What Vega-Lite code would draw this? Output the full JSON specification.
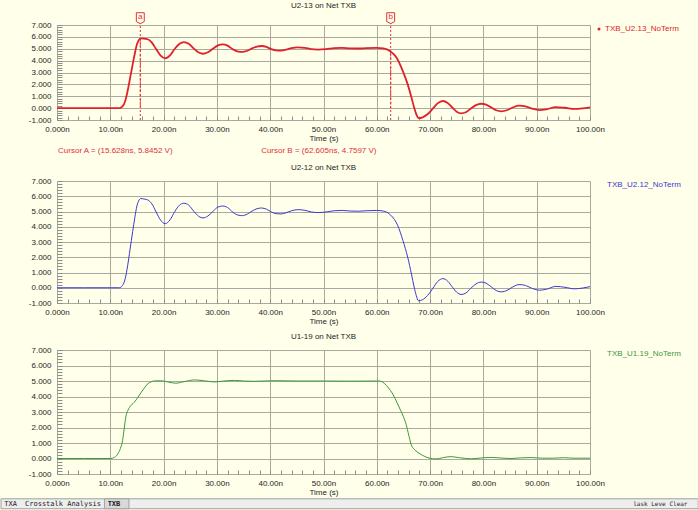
{
  "$schema": "https://vega.github.io/schema/vega-lite/v6.json",
  "padding": {"left": 0, "top": 1, "right": 0, "bottom": 0},
  "background": "#ffffea",
  "datasets": {
    "u213": [
      {"t": 0, "v": 0}, {"t": 5, "v": 0}, {"t": 10, "v": 0}, {"t": 11.7, "v": 0},
      {"t": 12.3, "v": 0.15}, {"t": 12.8, "v": 0.6}, {"t": 13.25, "v": 1.44}, {"t": 13.7, "v": 2.5},
      {"t": 14.2, "v": 3.69}, {"t": 14.6, "v": 4.6}, {"t": 15.0, "v": 5.37}, {"t": 15.4, "v": 5.75},
      {"t": 15.7, "v": 5.87}, {"t": 16.3, "v": 5.86}, {"t": 17.0, "v": 5.8}, {"t": 17.8, "v": 5.52},
      {"t": 18.6, "v": 4.97}, {"t": 19.4, "v": 4.45}, {"t": 20.3, "v": 4.2}, {"t": 21.2, "v": 4.45},
      {"t": 22.1, "v": 5.0}, {"t": 23.0, "v": 5.42}, {"t": 23.8, "v": 5.56}, {"t": 24.7, "v": 5.42},
      {"t": 25.7, "v": 5.0}, {"t": 26.6, "v": 4.68}, {"t": 27.4, "v": 4.58}, {"t": 28.3, "v": 4.7},
      {"t": 29.3, "v": 5.02}, {"t": 30.2, "v": 5.29}, {"t": 31.1, "v": 5.37}, {"t": 32.0, "v": 5.26},
      {"t": 33.0, "v": 4.95}, {"t": 34.0, "v": 4.76}, {"t": 34.8, "v": 4.73}, {"t": 35.7, "v": 4.83},
      {"t": 36.6, "v": 5.03}, {"t": 37.5, "v": 5.18}, {"t": 38.4, "v": 5.23}, {"t": 39.3, "v": 5.15},
      {"t": 40.2, "v": 4.97}, {"t": 41.1, "v": 4.86}, {"t": 42.0, "v": 4.84}, {"t": 43.0, "v": 4.92},
      {"t": 44.0, "v": 5.05}, {"t": 45.2, "v": 5.12}, {"t": 46.5, "v": 5.08}, {"t": 47.7, "v": 4.97},
      {"t": 49.0, "v": 4.93}, {"t": 50.5, "v": 4.97}, {"t": 52.0, "v": 5.05}, {"t": 53.5, "v": 5.07},
      {"t": 55.0, "v": 5.03}, {"t": 56.5, "v": 5.02}, {"t": 58.0, "v": 5.05}, {"t": 60.0, "v": 5.07},
      {"t": 61.2, "v": 5.03}, {"t": 62.0, "v": 4.93}, {"t": 62.6, "v": 4.76}, {"t": 63.3, "v": 4.48},
      {"t": 63.9, "v": 4.1}, {"t": 64.9, "v": 3.1}, {"t": 65.8, "v": 2.0}, {"t": 66.5, "v": 0.9},
      {"t": 67.0, "v": 0.05}, {"t": 67.4, "v": -0.5}, {"t": 67.8, "v": -0.85}, {"t": 68.6, "v": -0.78},
      {"t": 69.5, "v": -0.52}, {"t": 70.5, "v": -0.05}, {"t": 71.4, "v": 0.4}, {"t": 72.4, "v": 0.6},
      {"t": 73.3, "v": 0.43}, {"t": 74.2, "v": 0.03}, {"t": 75.0, "v": -0.3}, {"t": 75.8, "v": -0.44},
      {"t": 76.7, "v": -0.35}, {"t": 77.6, "v": -0.05}, {"t": 78.6, "v": 0.25}, {"t": 79.6, "v": 0.37},
      {"t": 80.5, "v": 0.3}, {"t": 81.5, "v": 0.05}, {"t": 82.4, "v": -0.18}, {"t": 83.4, "v": -0.27},
      {"t": 84.4, "v": -0.18}, {"t": 85.5, "v": 0.05}, {"t": 86.7, "v": 0.21}, {"t": 87.9, "v": 0.15},
      {"t": 89.2, "v": -0.05}, {"t": 90.5, "v": -0.16}, {"t": 91.8, "v": -0.1}, {"t": 93.6, "v": 0.09},
      {"t": 95.3, "v": 0.03}, {"t": 97.1, "v": -0.07}, {"t": 98.6, "v": -0.02}, {"t": 100, "v": 0.07}
    ],
    "u212": [
      {"t": 0, "v": 0}, {"t": 5, "v": 0}, {"t": 10, "v": 0}, {"t": 11.7, "v": 0},
      {"t": 12.3, "v": 0.15}, {"t": 12.8, "v": 0.6}, {"t": 13.25, "v": 1.44}, {"t": 13.7, "v": 2.5},
      {"t": 14.2, "v": 3.69}, {"t": 14.6, "v": 4.6}, {"t": 15.0, "v": 5.37}, {"t": 15.4, "v": 5.75},
      {"t": 15.7, "v": 5.85}, {"t": 16.3, "v": 5.82}, {"t": 17.0, "v": 5.76}, {"t": 17.8, "v": 5.5},
      {"t": 18.6, "v": 4.97}, {"t": 19.4, "v": 4.45}, {"t": 20.3, "v": 4.2}, {"t": 21.2, "v": 4.45},
      {"t": 22.1, "v": 5.0}, {"t": 23.0, "v": 5.42}, {"t": 23.8, "v": 5.54}, {"t": 24.7, "v": 5.42},
      {"t": 25.7, "v": 5.0}, {"t": 26.6, "v": 4.68}, {"t": 27.4, "v": 4.58}, {"t": 28.3, "v": 4.7},
      {"t": 29.3, "v": 5.02}, {"t": 30.2, "v": 5.29}, {"t": 31.1, "v": 5.36}, {"t": 32.0, "v": 5.26},
      {"t": 33.0, "v": 4.95}, {"t": 34.0, "v": 4.76}, {"t": 34.8, "v": 4.73}, {"t": 35.7, "v": 4.83},
      {"t": 36.6, "v": 5.03}, {"t": 37.5, "v": 5.18}, {"t": 38.4, "v": 5.23}, {"t": 39.3, "v": 5.15},
      {"t": 40.2, "v": 4.97}, {"t": 41.1, "v": 4.86}, {"t": 42.0, "v": 4.84}, {"t": 43.0, "v": 4.92},
      {"t": 44.0, "v": 5.05}, {"t": 45.2, "v": 5.12}, {"t": 46.5, "v": 5.08}, {"t": 47.7, "v": 4.97},
      {"t": 49.0, "v": 4.93}, {"t": 50.5, "v": 4.97}, {"t": 52.0, "v": 5.05}, {"t": 53.5, "v": 5.07},
      {"t": 55.0, "v": 5.03}, {"t": 56.5, "v": 5.02}, {"t": 58.0, "v": 5.05}, {"t": 60.0, "v": 5.07},
      {"t": 61.2, "v": 5.03}, {"t": 62.0, "v": 4.93}, {"t": 62.6, "v": 4.76}, {"t": 63.3, "v": 4.48},
      {"t": 63.9, "v": 4.1}, {"t": 64.9, "v": 3.1}, {"t": 65.8, "v": 2.0}, {"t": 66.5, "v": 0.9},
      {"t": 67.0, "v": 0.05}, {"t": 67.4, "v": -0.5}, {"t": 67.8, "v": -0.85}, {"t": 68.6, "v": -0.78},
      {"t": 69.5, "v": -0.52}, {"t": 70.5, "v": -0.05}, {"t": 71.4, "v": 0.4}, {"t": 72.4, "v": 0.6},
      {"t": 73.3, "v": 0.43}, {"t": 74.2, "v": 0.03}, {"t": 75.0, "v": -0.3}, {"t": 75.8, "v": -0.44},
      {"t": 76.7, "v": -0.35}, {"t": 77.6, "v": -0.05}, {"t": 78.6, "v": 0.25}, {"t": 79.6, "v": 0.37},
      {"t": 80.5, "v": 0.3}, {"t": 81.5, "v": 0.05}, {"t": 82.4, "v": -0.18}, {"t": 83.4, "v": -0.27},
      {"t": 84.4, "v": -0.18}, {"t": 85.5, "v": 0.05}, {"t": 86.7, "v": 0.21}, {"t": 87.9, "v": 0.15},
      {"t": 89.2, "v": -0.05}, {"t": 90.5, "v": -0.16}, {"t": 91.8, "v": -0.1}, {"t": 93.6, "v": 0.09},
      {"t": 95.3, "v": 0.03}, {"t": 97.1, "v": -0.07}, {"t": 98.6, "v": -0.02}, {"t": 100, "v": 0.07}
    ],
    "u119": [
      {"t": 0, "v": 0}, {"t": 5, "v": 0}, {"t": 10.1, "v": 0}, {"t": 10.8, "v": 0.08},
      {"t": 11.4, "v": 0.29}, {"t": 11.9, "v": 0.65}, {"t": 12.3, "v": 1.15}, {"t": 12.6, "v": 1.9},
      {"t": 12.9, "v": 2.66}, {"t": 13.3, "v": 3.1}, {"t": 13.6, "v": 3.3}, {"t": 14.5, "v": 3.63},
      {"t": 15.2, "v": 3.95}, {"t": 15.8, "v": 4.27}, {"t": 16.4, "v": 4.55}, {"t": 17.0, "v": 4.81},
      {"t": 17.7, "v": 4.95}, {"t": 18.3, "v": 5.01}, {"t": 19.8, "v": 5.01}, {"t": 21.0, "v": 4.92},
      {"t": 22.3, "v": 4.86}, {"t": 24.0, "v": 4.97}, {"t": 25.8, "v": 5.07}, {"t": 27.5, "v": 5.02},
      {"t": 29.5, "v": 4.94}, {"t": 31.3, "v": 5.0}, {"t": 33.3, "v": 5.04}, {"t": 35.0, "v": 5.0},
      {"t": 37.0, "v": 4.98}, {"t": 40.8, "v": 5.02}, {"t": 45.0, "v": 5.0}, {"t": 50.0, "v": 5.0},
      {"t": 55.0, "v": 4.99}, {"t": 60.5, "v": 5.0}, {"t": 61.4, "v": 4.85}, {"t": 62.2, "v": 4.55},
      {"t": 63.0, "v": 4.16}, {"t": 63.8, "v": 3.6}, {"t": 64.5, "v": 3.08}, {"t": 65.0, "v": 2.7},
      {"t": 65.5, "v": 2.2}, {"t": 66.0, "v": 1.5}, {"t": 66.4, "v": 0.94}, {"t": 67.0, "v": 0.6},
      {"t": 67.7, "v": 0.4}, {"t": 68.6, "v": 0.2}, {"t": 69.8, "v": 0.03}, {"t": 71.1, "v": -0.03},
      {"t": 72.5, "v": 0.06}, {"t": 73.9, "v": 0.12}, {"t": 75.5, "v": 0.05}, {"t": 77.7, "v": -0.02},
      {"t": 79.5, "v": 0.03}, {"t": 81.4, "v": 0.07}, {"t": 83.3, "v": 0.03}, {"t": 85.2, "v": 0.0},
      {"t": 87.0, "v": 0.04}, {"t": 88.9, "v": 0.06}, {"t": 91.0, "v": 0.02}, {"t": 93.0, "v": 0.02},
      {"t": 95.0, "v": 0.05}, {"t": 97.0, "v": 0.02}, {"t": 100, "v": 0.02}
    ],
    "cursors": [
      {"cursor": "a", "label": "Cursor A = (15.628ns, 5.8452 V)", "t": 15.628, "v": 5.8452},
      {"cursor": "b", "label": "Cursor B = (62.605ns, 4.7597 V)", "t": 62.605, "v": 4.7597}
    ],
    "tabs": [
      {"tab": "TXA"},
      {"tab": "Crosstalk Analysis"},
      {"tab": "TXB"},
      {"tab": "lask Leve"},
      {"tab": "Clear"}
    ]
  },
  "config": {
    "font": "Liberation Sans",
    "view": {"stroke": null},
    "axis": {
      "labelFontSize": 8, "labelColor": "#1e1e1e", "titleFontSize": 8, "titleFontWeight": "normal",
      "titleColor": "#1e1e1e", "gridColor": "#a9a9a0", "gridWidth": 1, "tickColor": "#8c8c8c", "domain": false
    },
    "title": {"fontSize": 8, "fontWeight": "normal", "color": "#1e1e1e", "frame": "group", "anchor": "middle", "offset": 5},
    "legend": {"labelFontSize": 8, "title": null, "padding": 0, "orient": "right"}
  },
  "resolve": {"scale": {"x": "independent", "y": "independent", "color": "independent"}, "legend": {"color": "independent"}},
  "spacing": 8,
  "vconcat": [
    {
      "title": {"text": "U2-13 on Net TXB", "offset": 1},
      "width": 533, "height": 95,
      "encoding": {
        "x": {"field": "t", "type": "quantitative", "scale": {"domain": [0, 100], "nice": false, "zero": false},
          "axis": {"values": [0,2,4,6,8,10,12,14,16,18,20,22,24,26,28,30,32,34,36,38,40,42,44,46,48,50,52,54,56,58,60,62,64,66,68,70,72,74,76,78,80,82,84,86,88,90,92,94,96,98,100],
            "labelExpr": "datum.value % 10 === 0 ? (datum.value === 0 ? '0.000n' : format(datum.value, '.2f') + 'n') : ''",
            "gridOpacity": {"condition": {"test": "datum.value % 10 === 0", "value": 1}, "value": 0},
            "tickSize": -4, "labelPadding": 9, "labelOverlap": false, "labelFlush": false, "title": "Time (s)", "titlePadding": 1}},
        "y": {"field": "v", "type": "quantitative", "scale": {"domain": [-1, 7], "nice": false, "zero": false},
          "axis": {"values": [-1,-0.8,-0.6,-0.4,-0.2,0,0.2,0.4,0.6,0.8,1,1.2,1.4,1.6,1.8,2,2.2,2.4,2.6,2.8,3,3.2,3.4,3.6,3.8,4,4.2,4.4,4.6,4.8,5,5.2,5.4,5.6,5.8,6,6.2,6.4,6.6,6.8,7],
            "labelExpr": "abs(datum.value - round(datum.value)) < 0.01 ? (datum.value < 0 ? '-' + format(abs(datum.value), '.3f') : format(datum.value, '.3f')) : ''",
            "gridOpacity": {"condition": {"test": "abs(datum.value - round(datum.value)) < 0.01", "value": 1}, "value": 0},
            "tickSize": -5, "labelPadding": 11, "labelOverlap": false, "labelFlush": false, "title": null}}
      },
      "layer": [
        {"data": {"name": "cursors"}, "mark": {"type": "rule", "color": "#e0303a", "strokeDash": [3, 2], "strokeWidth": 1},
          "encoding": {"y": {"field": "v", "type": "quantitative"}}},
        {"data": {"name": "cursors"}, "mark": {"type": "rule", "color": "#e0303a", "strokeDash": [2, 2], "strokeWidth": 1, "clip": false},
          "encoding": {"x": {"field": "t", "type": "quantitative"}, "y": {"datum": -1}, "y2": {"datum": 7.45}}},
        {"data": {"name": "u213"}, "mark": {"type": "line", "interpolate": "monotone", "strokeWidth": 1.8},
          "encoding": {"color": {"datum": "TXB_U2.13_NoTerm", "type": "nominal", "scale": {"range": ["#e0202a"]},
            "legend": {"offset": 5, "symbolType": "circle", "symbolSize": 9, "symbolFillColor": "#e0202a", "symbolStrokeWidth": 0, "labelColor": "#e0202a", "labelOffset": 2}}}},
        {"data": {"name": "cursors"}, "mark": {"type": "point", "shape": "M-0.72,-1 L0.72,-1 L0.72,0.6 L0,1 L-0.72,0.6 Z", "size": 121, "filled": true, "fill": "#ffffea", "stroke": "#e0303a", "strokeWidth": 1, "opacity": 1, "clip": false},
          "encoding": {"x": {"field": "t", "type": "quantitative"}, "y": {"datum": 7.57}}},
        {"data": {"name": "cursors"}, "mark": {"type": "text", "color": "#e0303a", "fontSize": 8, "baseline": "middle", "clip": false},
          "encoding": {"x": {"field": "t", "type": "quantitative"}, "y": {"datum": 7.67}, "text": {"field": "cursor"}}},
        {"data": {"name": "cursors"}, "transform": [{"filter": "datum.cursor === 'a'"}], "mark": {"type": "text", "color": "#e0303a", "fontSize": 8, "align": "left", "baseline": "middle", "clip": false},
          "encoding": {"x": {"datum": 0.2}, "y": {"datum": -3.62}, "text": {"field": "label"}}},
        {"data": {"name": "cursors"}, "transform": [{"filter": "datum.cursor === 'b'"}], "mark": {"type": "text", "color": "#e0303a", "fontSize": 8, "align": "left", "baseline": "middle", "clip": false},
          "encoding": {"x": {"datum": 38.3}, "y": {"datum": -3.62}, "text": {"field": "label"}}}
      ]
    },
    {
      "title": "U2-12 on Net TXB",
      "width": 533, "height": 122,
      "data": {"name": "u212"},
      "mark": {"type": "line", "interpolate": "monotone", "strokeWidth": 1},
      "encoding": {
        "x": {"field": "t", "type": "quantitative", "scale": {"domain": [0, 100], "nice": false, "zero": false},
          "axis": {"values": [0,2,4,6,8,10,12,14,16,18,20,22,24,26,28,30,32,34,36,38,40,42,44,46,48,50,52,54,56,58,60,62,64,66,68,70,72,74,76,78,80,82,84,86,88,90,92,94,96,98,100],
            "labelExpr": "datum.value % 10 === 0 ? (datum.value === 0 ? '0.000n' : format(datum.value, '.2f') + 'n') : ''",
            "gridOpacity": {"condition": {"test": "datum.value % 10 === 0", "value": 1}, "value": 0},
            "tickSize": -4, "labelPadding": 9, "labelOverlap": false, "labelFlush": false, "title": "Time (s)", "titlePadding": 1}},
        "y": {"field": "v", "type": "quantitative", "scale": {"domain": [-1, 7], "nice": false, "zero": false},
          "axis": {"values": [-1,-0.8,-0.6,-0.4,-0.2,0,0.2,0.4,0.6,0.8,1,1.2,1.4,1.6,1.8,2,2.2,2.4,2.6,2.8,3,3.2,3.4,3.6,3.8,4,4.2,4.4,4.6,4.8,5,5.2,5.4,5.6,5.8,6,6.2,6.4,6.6,6.8,7],
            "labelExpr": "abs(datum.value - round(datum.value)) < 0.01 ? (datum.value < 0 ? '-' + format(abs(datum.value), '.3f') : format(datum.value, '.3f')) : ''",
            "gridOpacity": {"condition": {"test": "abs(datum.value - round(datum.value)) < 0.01", "value": 1}, "value": 0},
            "tickSize": -5, "labelPadding": 11, "labelOverlap": false, "labelFlush": false, "title": null}},
        "color": {"datum": "TXB_U2.12_NoTerm", "type": "nominal", "scale": {"range": ["#3a3ad0"]},
          "legend": {"offset": 9, "symbolSize": 0, "symbolOpacity": 0, "labelColor": "#3a3ad0", "labelOffset": 0}}
      }
    },
    {
      "title": "U1-19 on Net TXB",
      "width": 533, "height": 124,
      "resolve": {"axis": {"x": "independent", "y": "independent"}},
      "layer": [
        {"data": {"name": "u119"}, "mark": {"type": "line", "interpolate": "monotone", "strokeWidth": 1},
          "encoding": {
            "x": {"field": "t", "type": "quantitative", "scale": {"domain": [0, 100], "nice": false, "zero": false},
              "axis": {"values": [0,2,4,6,8,10,12,14,16,18,20,22,24,26,28,30,32,34,36,38,40,42,44,46,48,50,52,54,56,58,60,62,64,66,68,70,72,74,76,78,80,82,84,86,88,90,92,94,96,98,100],
                "labelExpr": "datum.value % 10 === 0 ? (datum.value === 0 ? '0.000n' : format(datum.value, '.2f') + 'n') : ''",
                "gridOpacity": {"condition": {"test": "datum.value % 10 === 0", "value": 1}, "value": 0},
                "tickSize": -4, "labelPadding": 9, "labelOverlap": false, "labelFlush": false, "title": "Time (s)", "titlePadding": 1}},
            "y": {"field": "v", "type": "quantitative", "scale": {"domain": [-1, 7], "nice": false, "zero": false},
              "axis": {"values": [-1,-0.8,-0.6,-0.4,-0.2,0,0.2,0.4,0.6,0.8,1,1.2,1.4,1.6,1.8,2,2.2,2.4,2.6,2.8,3,3.2,3.4,3.6,3.8,4,4.2,4.4,4.6,4.8,5,5.2,5.4,5.6,5.8,6,6.2,6.4,6.6,6.8,7],
                "labelExpr": "abs(datum.value - round(datum.value)) < 0.01 ? (datum.value < 0 ? '-' + format(abs(datum.value), '.3f') : format(datum.value, '.3f')) : ''",
                "gridOpacity": {"condition": {"test": "abs(datum.value - round(datum.value)) < 0.01", "value": 1}, "value": 0},
                "tickSize": -5, "labelPadding": 11, "labelOverlap": false, "labelFlush": false, "title": null}},
            "color": {"datum": "TXB_U1.19_NoTerm", "type": "nominal", "scale": {"range": ["#3a983a"]},
              "legend": {"offset": 9, "symbolSize": 0, "symbolOpacity": 0, "labelColor": "#3a983a", "labelOffset": 0}}}},
        {"data": {"name": "tabs"}, "transform": [{"filter": "datum.tab === 'TXA'"}],
          "mark": {"type": "rect", "fill": "#eeeeee", "stroke": "#a0a0a0", "strokeWidth": 1, "clip": false, "invalid": null},
          "encoding": {"x": {"datum": -10.5, "axis": null}, "x2": {"datum": 120.3}, "y": {"datum": -2.6, "axis": null}, "y2": {"datum": -3.24}}},
        {"data": {"name": "tabs"}, "transform": [{"filter": "datum.tab === 'TXB'"}],
          "mark": {"type": "rect", "fill": "#d9d9d9", "stroke": "#a0a0a0", "strokeWidth": 1, "clip": false, "invalid": null},
          "encoding": {"x": {"datum": 8.9, "axis": null}, "x2": {"datum": 13.5}, "y": {"datum": -2.6, "axis": null}, "y2": {"datum": -3.24}}},
        {"data": {"name": "tabs"}, "transform": [{"filter": "datum.tab === 'TXA'"}],
          "mark": {"type": "text", "font": "DejaVu Sans Mono", "fontSize": 7, "color": "#202020", "align": "left", "baseline": "middle", "clip": false, "invalid": null},
          "encoding": {"x": {"datum": -9.9, "axis": null}, "y": {"datum": -2.93, "axis": null}, "text": {"field": "tab"}}},
        {"data": {"name": "tabs"}, "transform": [{"filter": "datum.tab === 'Crosstalk Analysis'"}],
          "mark": {"type": "text", "font": "DejaVu Sans Mono", "fontSize": 7, "color": "#202020", "align": "left", "baseline": "middle", "clip": false, "invalid": null},
          "encoding": {"x": {"datum": -6.0, "axis": null}, "y": {"datum": -2.93, "axis": null}, "text": {"field": "tab"}}},
        {"data": {"name": "tabs"}, "transform": [{"filter": "datum.tab === 'TXB'"}],
          "mark": {"type": "text", "font": "DejaVu Sans Mono", "fontSize": 7, "fontWeight": "bold", "color": "#202020", "align": "left", "baseline": "middle", "clip": false, "invalid": null},
          "encoding": {"x": {"datum": 9.5, "axis": null}, "y": {"datum": -2.93, "axis": null}, "text": {"field": "tab"}}},
        {"data": {"name": "tabs"}, "transform": [{"filter": "datum.tab === 'lask Leve'"}],
          "mark": {"type": "text", "font": "DejaVu Sans Mono", "fontSize": 6, "color": "#202020", "align": "left", "baseline": "middle", "clip": false, "invalid": null},
          "encoding": {"x": {"datum": 108.1, "axis": null}, "y": {"datum": -2.93, "axis": null}, "text": {"field": "tab"}}},
        {"data": {"name": "tabs"}, "transform": [{"filter": "datum.tab === 'Clear'"}],
          "mark": {"type": "text", "font": "DejaVu Sans Mono", "fontSize": 6, "color": "#202020", "align": "left", "baseline": "middle", "clip": false, "invalid": null},
          "encoding": {"x": {"datum": 114.9, "axis": null}, "y": {"datum": -2.93, "axis": null}, "text": {"field": "tab"}}}
      ]
    }
  ]
}
